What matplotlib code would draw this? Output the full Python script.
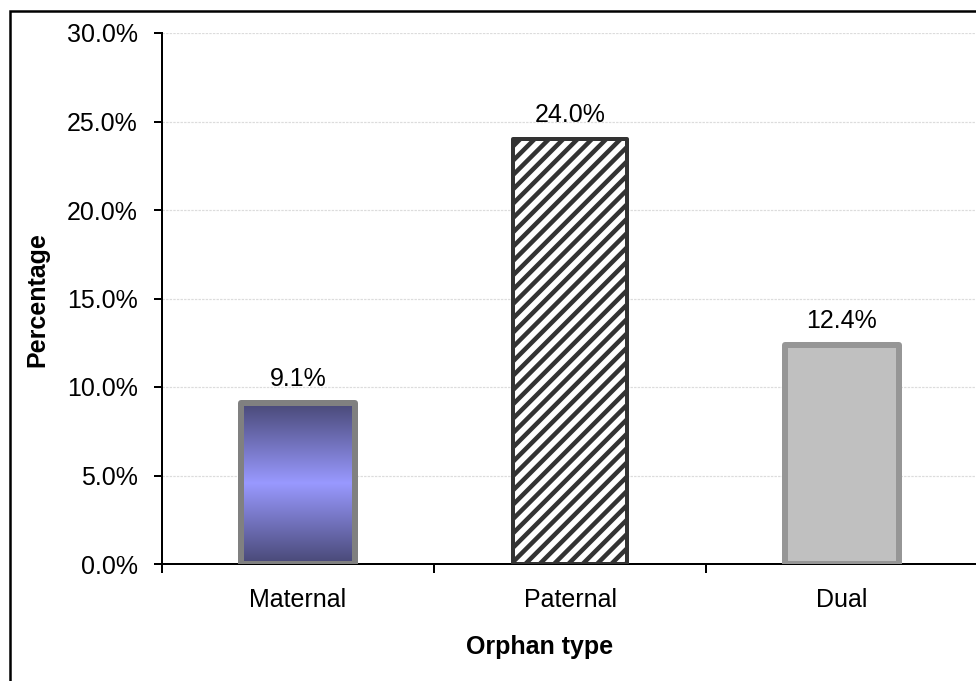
import matplotlib
matplotlib.use("Agg")
import matplotlib.pyplot as plt
import numpy as np
from matplotlib.patches import Rectangle
from matplotlib.ticker import FuncFormatter, FixedLocator

# Data
categories = ["Maternal", "Paternal", "Dual"]
percentages = [9.1, 24.0, 12.4]
y_ticks = [0, 5, 10, 15, 20, 25, 30]

DPI = 86
W, H = 976, 681


def px(p):
    """Convert pixels to points at the figure dpi."""
    return p * 72.0 / DPI


FS = px(25)

plt.rcParams["font.family"] = ["Liberation Sans", "DejaVu Sans"]
plt.rcParams["hatch.linewidth"] = px(4.5)

fig = plt.figure(figsize=(W / DPI, H / DPI), dpi=DPI)
fig.patch.set_facecolor("white")

# Outer chart frame
fig.add_artist(Rectangle((9.5 / W, -0.2), 1.5, (1 - 11 / H) + 0.2,
                         transform=fig.transFigure, fill=False,
                         edgecolor="black", linewidth=px(2.5)))

ax = fig.add_axes([162 / W, 1 - 564 / H, 816 / W, (564 - 33) / H])
x = np.arange(len(categories))

bars = ax.bar(x, percentages, width=0.42, zorder=3)

# Maternal: vertical gradient dark-light-dark
b0 = bars[0]
b0.set_facecolor("none")
b0.set_edgecolor("#808080")
b0.set_linewidth(px(6))
dark = np.array([72, 72, 118]) / 255.0
light = np.array([153, 153, 255]) / 255.0
t = np.abs(np.linspace(-1, 1, 256))[:, None]
grad = light * (1 - t) + dark * t
img = ax.imshow(grad[:, None, :], extent=(b0.get_x(), b0.get_x() + b0.get_width(),
                                          0, b0.get_height()),
                origin="lower", aspect="auto", zorder=2, interpolation="bilinear")
img.set_clip_path(b0)

# Paternal: diagonal hatch
b1 = bars[1]
b1.set_facecolor("white")
b1.set_edgecolor("#333333")
b1.set_hatch("//")
b1.set_linewidth(px(4))

# Dual: solid light grey
b2 = bars[2]
b2.set_facecolor("#c0c0c0")
b2.set_edgecolor("#969696")
b2.set_linewidth(px(6))

for b in bars:
    b.set_joinstyle("round")

# Value labels
for xi, v in zip(x, percentages):
    ax.annotate(f"{v:.1f}%", xy=(xi, v), xytext=(0, px(17)),
                textcoords="offset points", ha="center", va="baseline",
                fontsize=FS, color="black", zorder=5)

ax.set_xlim(-0.5, 2.5)
ax.set_ylim(0, 30)

# Axes styling
for s in ("top", "right"):
    ax.spines[s].set_visible(False)
for s in ("left", "bottom"):
    ax.spines[s].set_linewidth(px(2))
    ax.spines[s].set_color("black")

ax.yaxis.set_major_locator(FixedLocator(y_ticks))
ax.yaxis.set_major_formatter(FuncFormatter(lambda v, _: f"{v:.1f}%"))
ax.tick_params(axis="y", direction="out", length=px(8), width=px(2),
               pad=px(16), labelsize=FS)

ax.set_xticks(x)
ax.set_xticklabels(categories)
ax.set_xticks(np.arange(-0.5, 3.0, 1.0), minor=True)
ax.tick_params(axis="x", which="major", length=0, pad=px(24), labelsize=FS)
ax.tick_params(axis="x", which="minor", direction="out", length=px(9),
               width=px(2))

ax.yaxis.grid(True, color="#dcdcdc", linewidth=px(1.2), linestyle=(0, (2, 1)))
ax.set_axisbelow(True)

fig.text(37 / W, 1 - 300 / H, "Percentage", rotation=90, ha="center",
         va="center", fontsize=FS, fontweight="bold")
fig.text(540 / W, 1 - 647 / H, "Orphan type", ha="center", va="center",
         fontsize=FS, fontweight="bold")

fig.savefig("out.png", dpi=DPI, facecolor="white")
